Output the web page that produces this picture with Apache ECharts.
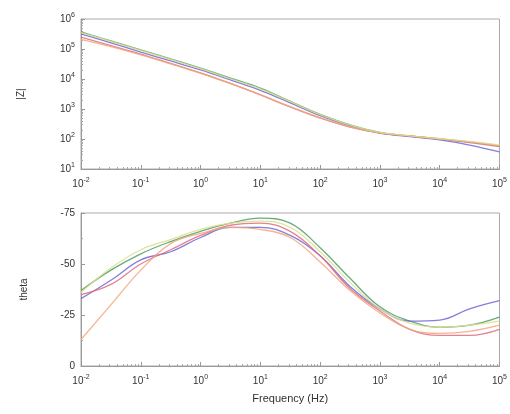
<!DOCTYPE html>
<html><head><meta charset="utf-8">
<script src="https://cdn.jsdelivr.net/npm/echarts@6/dist/echarts.min.js"></script>
<style>html,body{margin:0;padding:0;background:#fff}#c{width:510px;height:414px}</style>
</head><body><div id="c"></div>
<script>
const freq = [0.01, 0.0316, 0.1, 0.316, 1, 3.16, 10, 31.6, 100, 316, 1000, 3160, 10000, 31600, 100000];

// |Z| (ohm)
const zGreen  = [3.7e5, 1.86e5, 9.3e4, 4.7e4, 2.3e4, 1.07e4, 5.0e3, 1.8e3, 660, 295, 166, 126, 100, 80, 59];
const zBlue   = [3.2e5, 1.6e5, 7.9e4, 4.0e4, 2.0e4, 9.3e3, 4.2e3, 1.6e3, 600, 275, 158, 120, 93, 63, 37];
const zRed    = [2.5e5, 1.3e5, 6.8e4, 3.3e4, 1.6e4, 7.1e3, 2.95e3, 1.17e3, 500, 250, 158, 126, 100, 76, 56];
const zOrange = [2.1e5, 1.2e5, 6.4e4, 3.2e4, 1.55e4, 7.0e3, 3.0e3, 1.2e3, 520, 255, 160, 127, 102, 80, 60];
const zYellow = [3.5e5, 1.8e5, 9.0e4, 4.5e4, 2.2e4, 1.02e4, 4.7e3, 1.75e3, 650, 290, 165, 128, 102, 83, 63];

// theta (deg)
const tGreen  = [-37, -47, -55, -61, -66, -70, -72.5, -70, -58, -43, -29, -22, -19, -20, -24];
const tBlue   = [-33, -42, -52, -56, -63, -68, -68, -64, -54, -39, -28, -22, -22.5, -28, -32];
const tRed    = [-35, -40, -50, -57, -64, -69, -70, -66, -54, -38, -27, -18, -15, -15, -18];
const tOrange = [-13, -30, -47, -60, -65, -68, -67, -63, -51, -37, -26, -18, -16, -17, -20];
const tYellow = [-36, -48, -57, -62, -67, -70, -71, -68, -56, -41, -28, -21, -19, -20, -22];

const yTicksZ = [10, 100, 1000, 10000, 100000, 1000000];
const yTicksT = [-75, -50, -25, 0];

const names = ['green', 'blue', 'red', 'orange', 'yellow'];
const colors = ['#4f9d66', '#6f67d6', '#e06b80', '#f2a77a', '#d9df8c'];
const zSets = [zGreen, zBlue, zRed, zOrange, zYellow];
const tSets = [tGreen, tBlue, tRed, tOrange, tYellow];

function pow10Label(v) {
  const e = Math.round(Math.log10(v));
  return '{b|10}{s|' + e + '}';
}
const rich = {
  b: {fontSize: 10, color: '#333', fontFamily: 'Liberation Sans'},
  s: {fontSize: 7, color: '#333', fontFamily: 'Liberation Sans', padding: [0, 0, 7, 0]}
};

function xAxis(gi, withName) {
  return {
    type: 'log', logBase: 10, gridIndex: gi, min: 0.01, max: 100000,
    name: withName ? 'Frequency (Hz)' : '', nameLocation: 'middle', nameGap: 27,
    nameTextStyle: {fontSize: 11, color: '#333', fontFamily: 'Liberation Sans'},
    axisLine: {show: true, lineStyle: {color: '#999'}},
    axisTick: {show: true, inside: true, length: 4, lineStyle: {color: '#999'}},
    minorTick: {show: true, splitNumber: 9, length: 2, lineStyle: {color: '#aaa'}},
    splitLine: {show: false},
    axisLabel: {formatter: pow10Label, rich: rich, margin: 8}
  };
}

const option = {
  animation: false,
  grid: [
    {left: 81, top: 19, width: 421, height: 150, show: true, borderColor: '#aaa', borderWidth: 1},
    {left: 81, top: 213, width: 421, height: 153, show: true, borderColor: '#aaa', borderWidth: 1}
  ],
  xAxis: [xAxis(0, false), xAxis(1, true)],
  yAxis: [
    {
      type: 'log', logBase: 10, gridIndex: 0, min: yTicksZ[0], max: yTicksZ[yTicksZ.length - 1],
      name: '|Z|', nameLocation: 'middle', nameGap: 55,
      nameTextStyle: {fontSize: 10, color: '#333', fontFamily: 'Liberation Sans'},
      axisLine: {show: true, lineStyle: {color: '#999'}},
      axisTick: {show: true, inside: true, length: 4, lineStyle: {color: '#999'}},
      minorTick: {show: true, splitNumber: 9, length: 2, lineStyle: {color: '#aaa'}},
      splitLine: {show: false},
      axisLabel: {formatter: pow10Label, rich: rich, margin: 6}
    },
    {
      type: 'value', gridIndex: 1, min: yTicksT[0], max: yTicksT[yTicksT.length - 1], interval: 25, inverse: true,
      name: 'theta', nameLocation: 'middle', nameGap: 52,
      nameTextStyle: {fontSize: 10, color: '#333', fontFamily: 'Liberation Sans'},
      axisLine: {show: true, lineStyle: {color: '#999'}},
      axisTick: {show: true, inside: true, length: 4, lineStyle: {color: '#999'}},
      minorTick: {show: true, splitNumber: 2, length: 2, lineStyle: {color: '#aaa'}},
      splitLine: {show: false},
      axisLabel: {fontSize: 10, color: '#333', fontFamily: 'Liberation Sans', margin: 6}
    }
  ],
  series: []
};

names.forEach((n, i) => {
  option.series.push({
    name: n + ' |Z|', type: 'line', xAxisIndex: 0, yAxisIndex: 0, smooth: 0.4, showSymbol: false,
    lineStyle: {width: 1.3, color: colors[i], opacity: 0.85},
    data: freq.map((f, k) => [f, zSets[i][k]])
  });
  option.series.push({
    name: n + ' theta', type: 'line', xAxisIndex: 1, yAxisIndex: 1, smooth: 0.4, showSymbol: false,
    lineStyle: {width: 1.3, color: colors[i], opacity: 0.85},
    data: freq.map((f, k) => [f, tSets[i][k]])
  });
});

const chart = echarts.init(document.getElementById('c'), null, {renderer: 'canvas'});
chart.setOption(option);
</script>
</body></html>
